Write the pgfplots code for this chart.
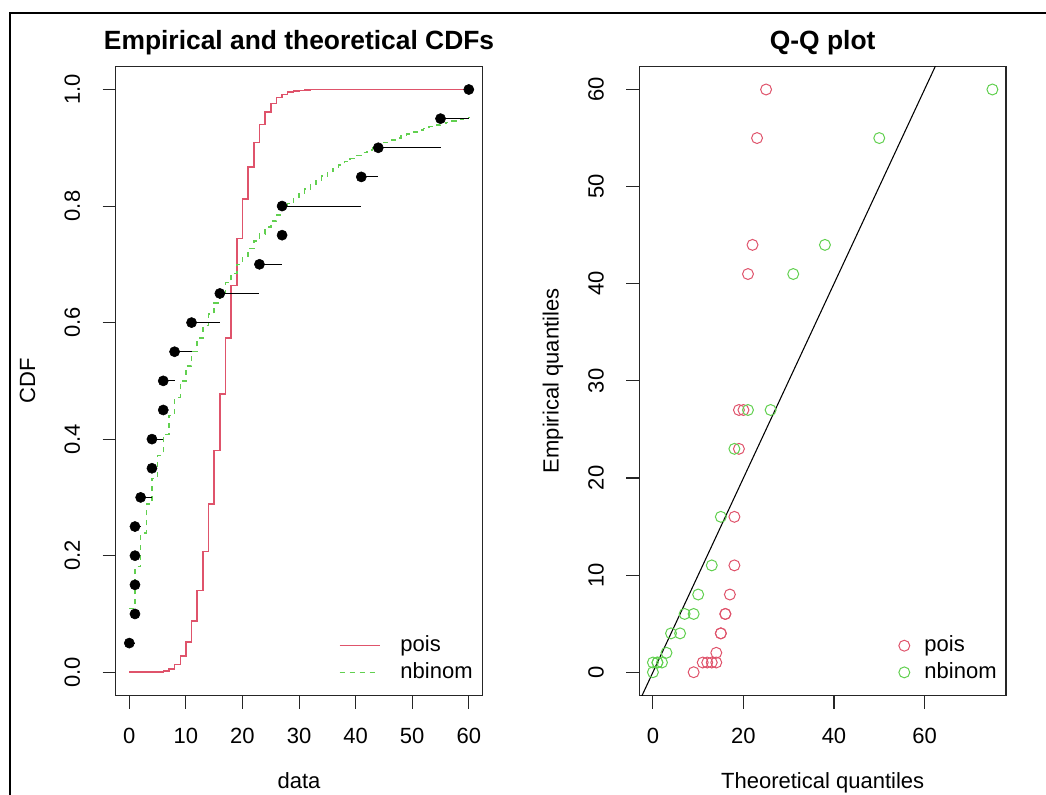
\documentclass[border=0pt]{standalone}
\usepackage{pgfplots}
\pgfplotsset{compat=1.18}
\usepackage{pgfplotstable}
\usepackage{fontspec}
\setmainfont{Liberation Sans}
\definecolor{rred}{HTML}{DF536B}
\definecolor{rgreen}{HTML}{61D04F}
\newcommand{\basefont}{\fontsize{16.5}{19.8}\selectfont}
\newcommand{\titlefont}{\bfseries\fontsize{19.8}{23.8}\selectfont}

% empirical CDF points
\pgfplotstableread{
x y
0 0.05
1 0.10
1 0.15
1 0.20
1 0.25
2 0.30
4 0.35
4 0.40
6 0.45
6 0.50
8 0.55
11 0.60
16 0.65
23 0.70
27 0.75
27 0.80
41 0.85
44 0.90
55 0.95
60 1.00
}\ecdfpts

% horizontal segments of the empirical CDF
\pgfplotstableread{
x y
0 0.05
1 0.05
nan nan
1 0.25
2 0.25
nan nan
2 0.30
4 0.30
nan nan
4 0.40
6 0.40
nan nan
6 0.50
8 0.50
nan nan
8 0.55
11 0.55
nan nan
11 0.60
16 0.60
nan nan
16 0.65
23 0.65
nan nan
23 0.70
27 0.70
nan nan
27 0.80
41 0.80
nan nan
41 0.85
44 0.85
nan nan
44 0.90
55 0.90
nan nan
55 0.95
60 0.95
}\ecdfsegs

% fitted Poisson CDF
\pgfplotstableread{
x y
0 0.0000000
1 0.0000008
2 0.0000073
3 0.0000441
4 0.0001996
5 0.000725
6 0.002206
7 0.005780
8 0.013331
9 0.027510
10 0.051473
11 0.088289
12 0.140138
13 0.207542
14 0.288909
15 0.380582
16 0.477412
17 0.573673
18 0.664051
19 0.744441
20 0.812370
21 0.867037
22 0.909031
23 0.939888
24 0.961616
25 0.976304
26 0.985851
27 0.991827
28 0.995434
29 0.997536
30 0.998720
31 0.999366
32 0.999707
33 0.999882
34 0.999969
35 0.999990
60 1.000000
}\poiscdf

% fitted negative binomial CDF
\pgfplotstableread{
x y
0 0.1095
1 0.1811
2 0.2389
3 0.2885
4 0.3324
5 0.3719
6 0.4079
7 0.4409
8 0.4713
9 0.4995
10 0.5258
11 0.5503
12 0.5732
13 0.5947
14 0.6149
15 0.6339
16 0.6518
17 0.6686
18 0.6846
19 0.6996
20 0.7139
21 0.7274
22 0.7401
23 0.7522
24 0.7637
25 0.7746
26 0.7850
27 0.7948
28 0.8041
29 0.8130
30 0.8215
31 0.8295
32 0.8372
33 0.8445
34 0.8514
35 0.8580
36 0.8643
37 0.8703
38 0.8760
39 0.8814
40 0.8866
41 0.8916
42 0.8963
43 0.9008
44 0.9051
45 0.9092
46 0.9131
47 0.9169
48 0.9205
49 0.9239
50 0.9271
51 0.9302
52 0.9332
53 0.9361
54 0.9388
55 0.9414
56 0.9438
57 0.9462
58 0.9485
59 0.9506
60 0.9527
}\nbcdf

% Q-Q: Poisson
\pgfplotstableread{
t e
9 0
11 1
12 1
13 1
14 1
14 2
15 4
15 4
16 6
16 6
17 8
18 11
18 16
19 23
19 27
20 27
21 41
22 44
23 55
25 60
}\qqpois

% Q-Q: negative binomial
\pgfplotstableread{
t e
0 0
0 1
1 1
1 1
2 1
3 2
4 4
6 4
7 6
9 6
10 8
13 11
15 16
18 23
21 27
26 27
31 41
38 44
50 55
75 60
}\qqnb

\pgfplotsset{
  rbase/.style={
    scale only axis, width=275pt, height=472pt,
    axis line style={line width=0.8pt, black!85},
    tick align=outside, major tick length=9.75pt,
    every tick/.style={black!85, line width=0.8pt},
    xtick pos=left, ytick pos=left,
    minor tick num=0,
    tick label style={font=\basefont},
    /pgf/number format/assume math mode=true,
    xticklabel style={anchor=base, yshift=-26.1pt},
    yticklabel style={xshift=-17.05pt, rotate=90, anchor=base},
    every axis title/.style={at={(axis description cs:0.5,1)}, anchor=base, yshift=12.75pt, font=\titlefont},
    every axis x label/.style={at={(axis description cs:0.5,0)}, anchor=base, yshift=-70pt, font=\basefont},
    every axis y label/.style={at={(axis description cs:0,0.5)}, xshift=-60.5pt, rotate=90, anchor=base, font=\basefont},
    legend cell align=left,
  },
  circlegend/.style={legend image code/.code={\draw[##1] plot coordinates {(0pt,0pt)};}},
}

\begin{document}
\begin{tikzpicture}
\useasboundingbox (0,0) rectangle (784.5pt,596.25pt);
\draw[line width=1.5pt] (7.5pt,0pt) -- (7.5pt,586.5pt) -- (784.5pt,586.5pt);

\begin{axis}[rbase,
  at={(86.8pt,74.6pt)}, anchor=south west,
  xmin=-2.4, xmax=62.4, ymin=-0.04, ymax=1.04,
  xtick={0,10,...,60},
  ytick={0,0.2,0.4,0.6,0.8,1.0},
  yticklabels={0.0,0.2,0.4,0.6,0.8,1.0},
  title={Empirical and theoretical CDFs},
  xlabel={data}, ylabel={CDF},
  legend style={draw=none, fill=none, font=\basefont, at={(0.985,0.0157)}, anchor=south east,
    row sep=4.5pt, column sep=15pt, nodes={inner sep=0pt, text height=12pt, text depth=3.5pt}},
  legend image code/.code={\draw[#1] (0pt,0pt) -- (30pt,0pt);},
]
\addplot[const plot, rred, line width=1.1pt, no marks] table[x=x,y=y] {\poiscdf};
\addlegendentry{pois}
\addplot[const plot, rgreen, line width=1.1pt, no marks, dash pattern=on 3.75pt off 3.75pt] table[x=x,y=y] {\nbcdf};
\addlegendentry{nbinom}
\addplot[black, line width=0.8pt, no marks, unbounded coords=jump, forget plot] table[x=x,y=y] {\ecdfsegs};
\addplot[only marks, mark=*, mark size=3.8pt, black, forget plot] table[x=x,y=y] {\ecdfpts};
\end{axis}

\begin{axis}[rbase,
  at={(479.5pt,74.6pt)}, anchor=south west,
  xmin=-3, xmax=78, ymin=-2.4, ymax=62.4,
  xtick={0,20,40,60},
  ytick={0,10,...,60},
  title={Q-Q plot},
  xlabel={Theoretical quantiles}, ylabel={Empirical quantiles},
  legend style={draw=none, fill=none, font=\basefont, at={(0.986,0.0157)}, anchor=south east,
    row sep=4.5pt, column sep=11pt, nodes={inner sep=0pt, text height=12pt, text depth=3.5pt}},
]
\addplot[black, line width=0.8pt, no marks, forget plot] coordinates {(-10,-10) (100,100)};
\addplot[only marks, mark=o, mark size=4.1pt, rred, line width=0.75pt, circlegend] table[x=t,y=e] {\qqpois};
\addlegendentry{pois}
\addplot[only marks, mark=o, mark size=4.1pt, rgreen, line width=0.75pt, circlegend] table[x=t,y=e] {\qqnb};
\addlegendentry{nbinom}
\end{axis}
\end{tikzpicture}
\end{document}
